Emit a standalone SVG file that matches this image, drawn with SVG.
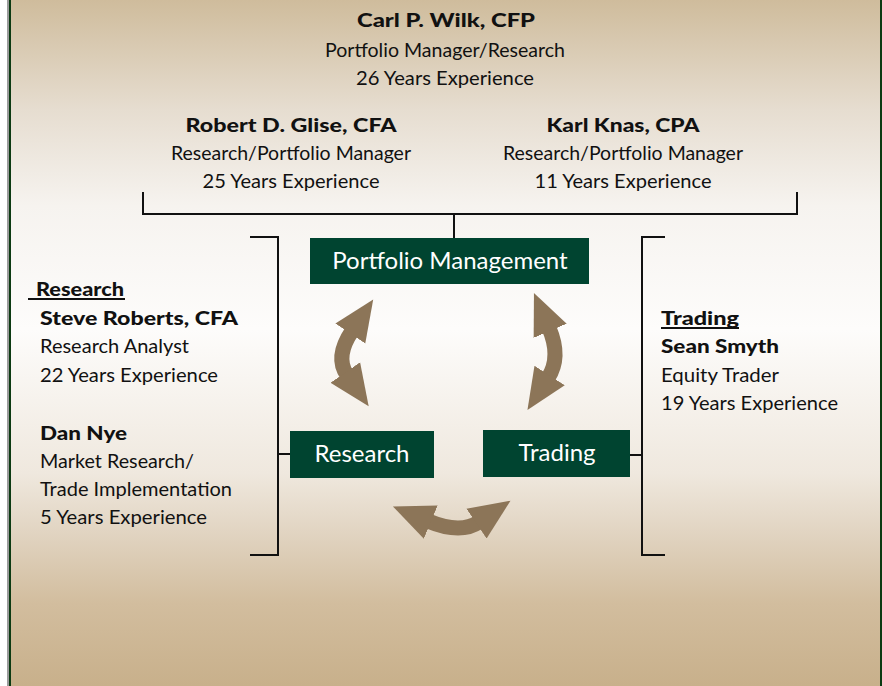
<svg xmlns="http://www.w3.org/2000/svg" width="882" height="686" viewBox="0 0 882 686">
  <defs>
    <linearGradient id="bg" x1="0" y1="0" x2="0" y2="1">
      <stop offset="0" stop-color="#cfbc9c"/>
      <stop offset="0.16" stop-color="#e6ddd0"/>
      <stop offset="0.3" stop-color="#f6f3ef"/>
      <stop offset="0.48" stop-color="#fdfcfb"/>
      <stop offset="0.69" stop-color="#efe8de"/>
      <stop offset="0.79" stop-color="#dfd1bd"/>
      <stop offset="0.88" stop-color="#d2bd9e"/>
      <stop offset="1" stop-color="#c8b08b"/>
    </linearGradient>
    <marker id="head" markerUnits="userSpaceOnUse" markerWidth="42" markerHeight="40" viewBox="-3 -19 42 38" refX="0" refY="0" orient="auto-start-reverse">
      <path d="M-3,-18 L38,0 L-3,18 Z" fill="#8c7558"/>
    </marker>
    <style>
      .t { font-family: Lato, "Open Sans", sans-serif; font-size: 19px; fill: #111; }
      .b { font-weight: 900; }
      .c { text-anchor: middle; }
      .line { stroke: #111; stroke-width: 2; fill: none; }
      .box { fill: #004430; }
      .bt { font-family: Lato, "Open Sans", sans-serif; font-size: 24px; fill: #fff; text-anchor: middle; }
      .arr { stroke: #8c7558; stroke-width: 15; fill: none; marker-start: url(#head); marker-end: url(#head); }
    </style>
  </defs>

  <!-- panel -->
  <rect x="0" y="0" width="882" height="686" fill="#fff"/>
  <rect x="10" y="0" width="870" height="686" fill="url(#bg)"/>
  <rect x="7" y="0" width="2" height="686" fill="#9c9c9c"/>
  <rect x="9" y="0" width="2" height="686" fill="#0c3a12"/>
  <rect x="880" y="0" width="2" height="686" fill="#0c3a12"/>

  <!-- connectors -->
  <g id="connectors">
    <path class="line" d="M143,192 V214 H797 V192 M454,214 V238"/>
    <path class="line" d="M250,237 H278 V555 H250 M278,454 H290"/>
    <path class="line" d="M665,237 H642 V555 H665 M630,455 H642"/>
    <path class="arr" d="M352,331 Q334.5,357 347,375"/>
    <path class="arr" d="M549,328 Q561.5,357 548,378"/>
    <path class="arr" d="M428,521 Q460.5,534.5 479,522"/>
  </g>

  <g id="carl-wilk">
    <text class="t b c" x="446" y="27" textLength="178" lengthAdjust="spacingAndGlyphs">Carl P. Wilk, CFP</text>
    <text class="t c" x="445" y="57" textLength="240" lengthAdjust="spacingAndGlyphs">Portfolio Manager/Research</text>
    <text class="t c" x="445" y="85" textLength="178" lengthAdjust="spacingAndGlyphs">26 Years Experience</text>
  </g>
  <g id="robert-glise">
    <text class="t b c" x="291" y="132" textLength="211" lengthAdjust="spacingAndGlyphs">Robert D. Glise, CFA</text>
    <text class="t c" x="291" y="160" textLength="240" lengthAdjust="spacingAndGlyphs">Research/Portfolio Manager</text>
    <text class="t c" x="291" y="188" textLength="177" lengthAdjust="spacingAndGlyphs">25 Years Experience</text>
  </g>
  <g id="karl-knas">
    <text class="t b c" x="623" y="132" textLength="153" lengthAdjust="spacingAndGlyphs">Karl Knas, CPA</text>
    <text class="t c" x="623" y="160" textLength="240" lengthAdjust="spacingAndGlyphs">Research/Portfolio Manager</text>
    <text class="t c" x="623" y="188" textLength="177" lengthAdjust="spacingAndGlyphs">11 Years Experience</text>
  </g>

  <g id="portfolio-management">
    <rect class="box" x="310" y="238" width="279" height="46"/>
    <text class="bt" x="450" y="269">Portfolio Management</text>
  </g>
  <g id="research">
    <rect class="box" x="290" y="431" width="144" height="47"/>
    <text class="bt" x="362" y="462">Research</text>
  </g>
  <g id="trading">
    <rect class="box" x="483" y="430" width="147" height="47"/>
    <text class="bt" x="557" y="461">Trading</text>
  </g>

  <g id="research-team">
    <text class="t b" x="36" y="296" textLength="88" lengthAdjust="spacingAndGlyphs">Research</text>
    <rect x="28" y="298" width="97" height="2" fill="#111"/>
    <text class="t b" x="40" y="325" textLength="198" lengthAdjust="spacingAndGlyphs">Steve Roberts, CFA</text>
    <text class="t" x="40" y="353" textLength="149" lengthAdjust="spacingAndGlyphs">Research Analyst</text>
    <text class="t" x="40" y="382" textLength="178" lengthAdjust="spacingAndGlyphs">22 Years Experience</text>
    <text class="t b" x="40" y="440" textLength="87" lengthAdjust="spacingAndGlyphs">Dan Nye</text>
    <text class="t" x="40" y="468" textLength="154" lengthAdjust="spacingAndGlyphs">Market Research/</text>
    <text class="t" x="40" y="496" textLength="192" lengthAdjust="spacingAndGlyphs">Trade Implementation</text>
    <text class="t" x="40" y="524" textLength="167" lengthAdjust="spacingAndGlyphs">5 Years Experience</text>
  </g>

  <g id="trading-team">
    <text class="t b" x="661" y="325" textLength="78" lengthAdjust="spacingAndGlyphs">Trading</text>
    <rect x="661" y="327" width="78" height="2" fill="#111"/>
    <text class="t b" x="661" y="353" textLength="118" lengthAdjust="spacingAndGlyphs">Sean Smyth</text>
    <text class="t" x="661" y="382" textLength="118" lengthAdjust="spacingAndGlyphs">Equity Trader</text>
    <text class="t" x="661" y="410" textLength="177" lengthAdjust="spacingAndGlyphs">19 Years Experience</text>
  </g>
</svg>
